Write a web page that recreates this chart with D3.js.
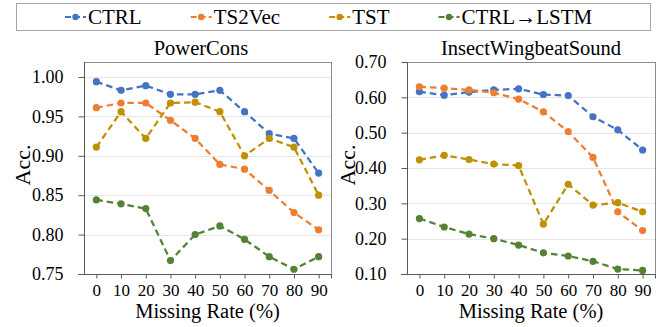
<!DOCTYPE html>
<html>
<head>
<meta charset="utf-8">
<script src="https://cdn.jsdelivr.net/npm/d3@7"></script>
<style>
  body { margin: 0; background: #fff; }
  svg, svg text { font-family: 'Liberation Serif', 'Times New Roman', Times, 'DejaVu Serif', serif; fill: #000; }
</style>
</head>
<body>
<div id="chart"></div>
<script>
// missing rates (%) on the x axis
const rates = [0, 10, 20, 30, 40, 50, 60, 70, 80, 90];
const seriesNames = ['CTRL', 'TS2Vec', 'TST', 'CTRL\u2192LSTM'];
const colors = ['#4472C4', '#ED7D31', '#BF9000', '#548235'];

// PowerCons accuracies
const powerCtrl   = [0.994, 0.983, 0.989, 0.978, 0.978, 0.983, 0.956, 0.928, 0.922, 0.878];
const powerTs2vec = [0.961, 0.967, 0.967, 0.945, 0.922, 0.889, 0.883, 0.856, 0.828, 0.806];
const powerTst    = [0.911, 0.956, 0.922, 0.967, 0.968, 0.956, 0.900, 0.922, 0.911, 0.850];
const powerLstm   = [0.844, 0.839, 0.833, 0.767, 0.800, 0.811, 0.794, 0.772, 0.756, 0.772];
const powerTicks  = [0.75, 0.80, 0.85, 0.90, 0.95, 1.00];

// InsectWingbeatSound accuracies
const insectCtrl   = [0.616, 0.606, 0.615, 0.621, 0.624, 0.608, 0.605, 0.545, 0.508, 0.451];
const insectTs2vec = [0.630, 0.626, 0.621, 0.613, 0.595, 0.559, 0.503, 0.430, 0.276, 0.223];
const insectTst    = [0.423, 0.436, 0.424, 0.411, 0.407, 0.241, 0.354, 0.295, 0.302, 0.276];
const insectLstm   = [0.257, 0.233, 0.213, 0.200, 0.182, 0.160, 0.151, 0.136, 0.114, 0.110];
const insectTicks  = [0.10, 0.20, 0.30, 0.40, 0.50, 0.60, 0.70];

const FONT = "'Liberation Serif', 'Times New Roman', Times, 'DejaVu Serif', serif";
const W = 667, H = 327;
const svg = d3.select('#chart').append('svg')
  .attr('width', W)
  .attr('height', H)
  .style('font-family', FONT);

// legend
const legend = svg.append('g');
legend.append('rect')
  .attr('x', 16.5).attr('y', 3.5)
  .attr('width', 634).attr('height', 27)
  .attr('fill', 'none')
  .attr('stroke', '#a6a6a6');

let lx = 65;
seriesNames.forEach((name, i) => {
  const g = legend.append('g');
  g.append('line')
    .attr('x1', lx).attr('x2', lx + 21)
    .attr('y1', 17).attr('y2', 17)
    .attr('stroke', colors[i])
    .attr('stroke-width', 2)
    .attr('stroke-dasharray', '6,3');
  g.append('circle')
    .attr('cx', lx + 10.5).attr('cy', 17).attr('r', 3.2)
    .attr('fill', colors[i]);
  const t = g.append('text')
    .attr('x', lx + 23).attr('y', 24)
    .style('font-family', FONT)
    .attr('font-size', 21)
    .text(name);
  lx += 23 + t.node().getComputedTextLength() + 49;
});

function panel(opts) {
  const { left, right, top, bottom, title, domain, ticks, fmt, series, titleX } = opts;

  const x = d3.scalePoint().domain(rates).range([left, right]).padding(0.5);
  const y = d3.scaleLinear().domain(domain).range([bottom, top]);

  const g = svg.append('g');

  // gridlines
  g.append('g').selectAll('line')
    .data(ticks.slice(1))
    .join('line')
    .attr('x1', left).attr('x2', right)
    .attr('y1', d => Math.round(y(d)) + 0.5).attr('y2', d => Math.round(y(d)) + 0.5)
    .attr('stroke', '#e6e6e6');

  // frame
  g.append('rect')
    .attr('x', left + 0.5).attr('y', top + 0.5)
    .attr('width', right - left).attr('height', bottom - top)
    .attr('fill', 'none')
    .attr('stroke', '#8c8c8c');

  // y axis
  const yAxis = g.append('g')
    .attr('transform', `translate(${left + 0.5},0)`)
    .call(d3.axisLeft(y).tickValues(ticks).tickFormat(fmt).tickSize(6).tickPadding(15));
  yAxis.attr('font-family', null);
  yAxis.select('.domain').attr('stroke', '#595959').attr('d', `M0,${top}V${bottom}`);
  yAxis.selectAll('.tick line').attr('stroke', '#595959');
  yAxis.selectAll('.tick text')
    .attr('font-size', 18)
    .style('font-family', FONT)
    .attr('fill', '#000');

  // x axis
  const xAxis = g.append('g')
    .attr('transform', `translate(0,${bottom + 0.5})`)
    .call(d3.axisBottom(x).tickSize(4).tickPadding(5));
  xAxis.attr('font-family', null);
  xAxis.select('.domain').attr('stroke', '#595959').attr('d', `M${left - 6},0H${right + 0.5}`);
  xAxis.selectAll('.tick line').attr('stroke', '#595959');
  xAxis.selectAll('.tick text')
    .attr('font-size', 17)
    .style('font-family', FONT)
    .attr('fill', '#000');
  xAxis.append('line')
    .attr('x1', right + 0.5).attr('x2', right + 0.5)
    .attr('y1', 0).attr('y2', 4)
    .attr('stroke', '#595959');

  // titles
  g.append('text')
    .attr('x', titleX).attr('y', 55)
    .attr('text-anchor', 'middle')
    .style('font-family', FONT)
    .attr('font-size', 20.5)
    .text(title);
  g.append('text')
    .attr('x', (left + right) / 2).attr('y', 318)
    .attr('text-anchor', 'middle')
    .style('font-family', FONT)
    .attr('font-size', 20.5)
    .text('Missing Rate (%)');
  g.append('text')
    .attr('transform', `translate(${opts.accX},165) rotate(-90)`)
    .attr('text-anchor', 'middle')
    .attr('dy', '0.35em')
    .style('font-family', FONT)
    .attr('font-size', 22)
    .text('Acc.');

  // series lines and markers
  series.forEach((vals, i) => {
    const line = d3.line()
      .x((d, j) => x(rates[j]))
      .y(d => y(d));
    g.append('path')
      .datum(vals)
      .attr('fill', 'none')
      .attr('stroke', colors[i])
      .attr('stroke-width', 2.25)
      .attr('stroke-dasharray', '6.5,4')
      .attr('d', line);
    g.append('g').selectAll('circle')
      .data(vals)
      .join('circle')
      .attr('cx', (d, j) => x(rates[j]))
      .attr('cy', d => y(d))
      .attr('r', 3.6)
      .attr('fill', colors[i]);
  });
}

panel({
  left: 84, right: 331, top: 62, bottom: 274,
  title: 'PowerCons', titleX: 201,
  domain: [0.75, 1.019], ticks: powerTicks, fmt: d3.format('.2f'),
  series: [powerCtrl, powerTs2vec, powerTst, powerLstm],
  accX: 22
});

panel({
  left: 407, right: 655, top: 62, bottom: 274,
  title: 'InsectWingbeatSound', titleX: 531,
  domain: [0.10, 0.70], ticks: insectTicks, fmt: d3.format('.2f'),
  series: [insectCtrl, insectTs2vec, insectTst, insectLstm],
  accX: 347
});
</script>
</body>
</html>
